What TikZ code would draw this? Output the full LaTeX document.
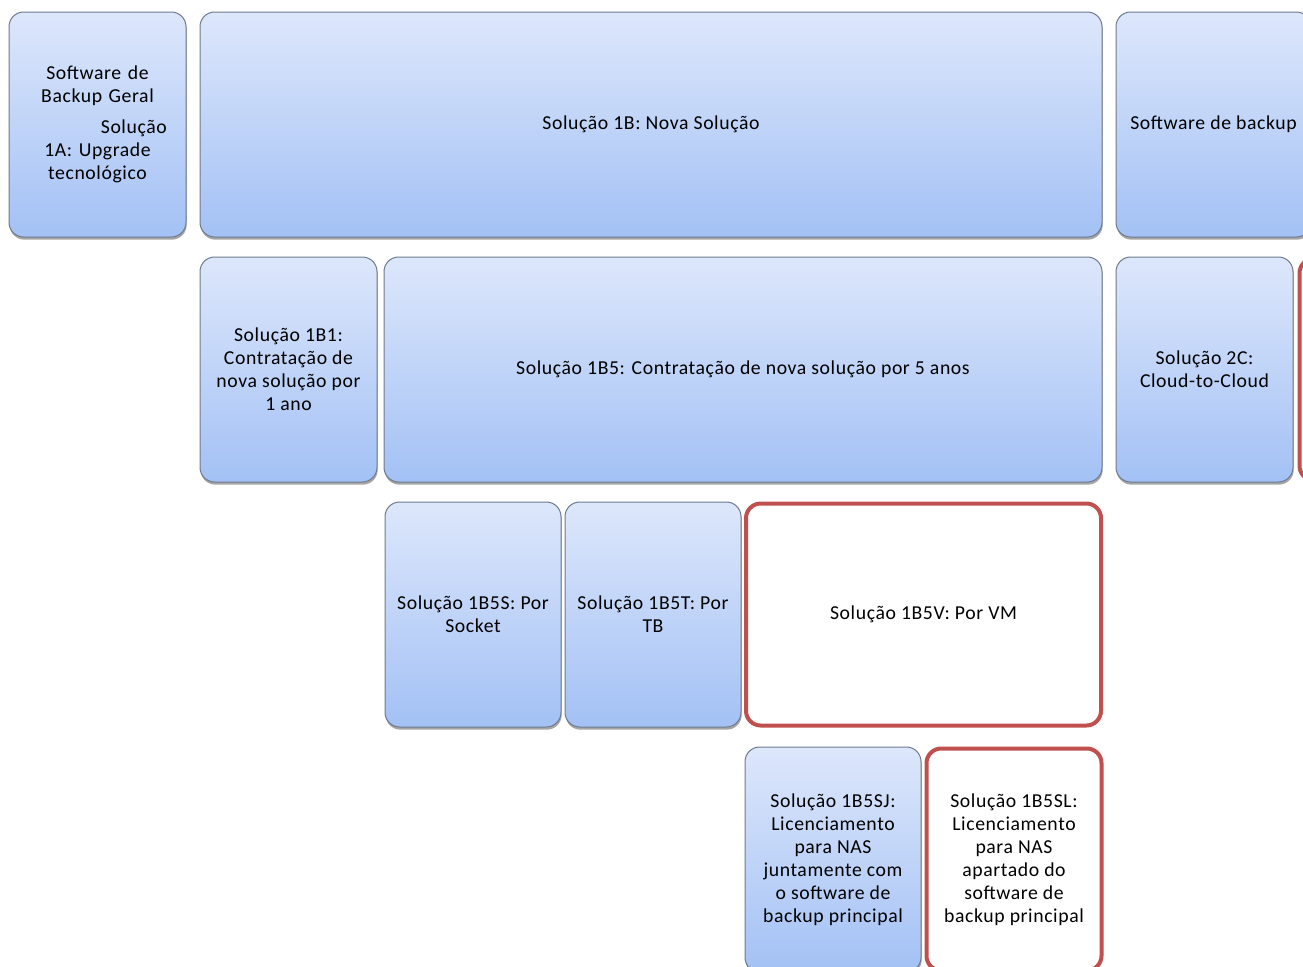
\documentclass[tikz,border=0pt]{standalone}
\usepackage{fontspec}
\setmainfont[LetterSpace=3]{Carlito}
\usetikzlibrary{positioning,shadows}
\definecolor{boxtop}{RGB}{221,231,251}
\definecolor{boxbot}{RGB}{163,193,245}
\definecolor{boxline}{RGB}{110,122,142}
\definecolor{redline}{RGB}{192,80,77}
\tikzset{every picture/.style={line width=0.75pt}}
\tikzset{
  blubox/.style={draw=boxline, rounded corners=11pt, top color=boxtop, bottom color=boxbot,
    align=center, inner sep=0pt, minimum height=168.75pt,
    font=\fontsize{14.8}{17.25}\selectfont,
    drop shadow={shadow xshift=0.5pt, shadow yshift=-2pt, opacity=0.35, fill=black}},
  redbox/.style={draw=redline, line width=3pt, rounded corners=11pt, fill=white,
    align=center, inner sep=0pt, minimum height=166.5pt,
    font=\fontsize{14.8}{17.25}\selectfont},
}

\begin{document}
\begin{tikzpicture}[x=0.75pt,y=0.75pt,yscale=-1,xscale=1]

\useasboundingbox (0,0) rectangle (1303,967);
\clip (0,0) rectangle (1303,967);

% Row 1
\node[blubox, minimum width=132.75pt, text width=104pt] (solA) at (97.5,124.5)
  {Software de\\ Backup Geral\\[6pt] \hspace*{\fill}Solução\\ 1A: Upgrade\\ tecnológico};
\node[blubox, minimum width=676.5pt] (sol1B) at (651,124.5) {Solução 1B: Nova Solução};
\node[blubox, minimum width=146.25pt] (swbk) at (1213.5,124.5) {Software de backup};

% Row 2
\node[blubox, minimum width=132.75pt] (sol1B1) at (288.5,369.5)
  {Solução 1B1:\\ Contratação de\\ nova solução por\\ 1 ano};
\node[blubox, minimum width=538.5pt] (sol1B5) at (743,369.5)
  {Solução 1B5: Contratação de nova solução por 5 anos};
\node[blubox, minimum width=132.75pt] (sol2C) at (1204.5,369.5) {Solução 2C:\\ Cloud-to-Cloud};
\node[redbox, minimum width=132.75pt] (sol2D) at (1388,369.5) {};

% Row 3
\node[blubox, minimum width=132pt] (sol1B5S) at (473,614.5) {Solução 1B5S: Por\\ Socket};
\node[blubox, minimum width=132pt] (sol1B5T) at (653,614.5) {Solução 1B5T: Por\\ TB};
\node[redbox, minimum width=266.25pt] (sol1B5V) at (923.5,614.5) {Solução 1B5V: Por VM};

% Row 4
\node[blubox, minimum width=132pt] (sol1B5SJ) at (833,859.5)
  {Solução 1B5SJ:\\ Licenciamento\\ para NAS\\ juntamente com\\ o software de\\ backup principal};
\node[redbox, minimum width=131.25pt] (sol1B5SL) at (1014,859.5)
  {Solução 1B5SL:\\ Licenciamento\\ para NAS\\ apartado do\\ software de\\ backup principal};

\end{tikzpicture}
\end{document}
